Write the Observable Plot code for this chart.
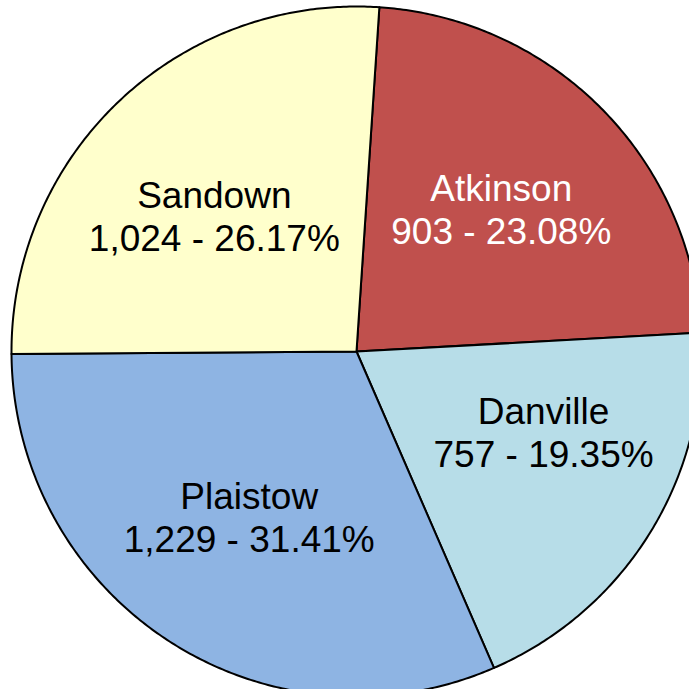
<!DOCTYPE html>
<html>
<head>
<meta charset="utf-8">
<script src="https://cdn.jsdelivr.net/npm/d3@7"></script>
<script src="https://cdn.jsdelivr.net/npm/@observablehq/plot@0.6"></script>
<style>
  html, body { margin: 0; padding: 0; background: #fff; overflow: hidden; }
  #chart svg { display: block; }
</style>
</head>
<body>
<div id="chart"></div>
<script>
// Data
const towns = ["Atkinson", "Danville", "Plaistow", "Sandown"];
const counts = [903, 757, 1229, 1024];
const sliceColors = ["#C0504D", "#B7DDE8", "#8EB4E3", "#FFFFCC"];

// Layout
const W = 689, H = 689;
const cx = 356, cy = 351, R = 345;
const startDeg = 3.8;
const fontSize = 37, lineHeight = 1.16;
const fontFamily = "'Liberation Sans', Arial, sans-serif";

const total = d3.sum(counts);
const fmt = d3.format(",");

// text measuring for label fitting
const ctx = document.createElement("canvas").getContext("2d");
ctx.font = `${fontSize}px ${fontFamily}`;

function fits(px, py, w, h, a0, a1, pad) {
  const pts = [];
  for (const fx of [-0.5, 0, 0.5]) for (const fy of [-0.5, 0, 0.5]) pts.push([px + fx * w, py + fy * h]);
  const u0 = [Math.sin(a0), -Math.cos(a0)], u1 = [Math.sin(a1), -Math.cos(a1)];
  for (const [x, y] of pts) {
    if (Math.hypot(x, y) > R - pad) return false;
    if (u0[0] * y - u0[1] * x < pad) return false;
    if (u1[0] * y - u1[1] * x > -pad) return false;
  }
  return true;
}

// Build slice polygons (unit circle coords, y downward)
const polys = [];
const labels = [];
let acc = 0;
towns.forEach((name, i) => {
  const a0 = (startDeg + 360 * acc / total) * Math.PI / 180;
  acc += counts[i];
  const a1 = (startDeg + 360 * acc / total) * Math.PI / 180;
  polys.push({name, x: 0, y: 0});
  const n = Math.max(2, Math.ceil((a1 - a0) / (Math.PI / 360)));
  for (let k = 0; k <= n; k++) {
    const a = a0 + (a1 - a0) * k / n;
    polys.push({name, x: Math.sin(a), y: -Math.cos(a)});
  }
  polys.push({name, x: 0, y: 0});

  const line1 = name;
  const line2 = `${fmt(counts[i])} - ${(counts[i] / total * 100).toFixed(2)}%`;
  const w = Math.max(ctx.measureText(line1).width, ctx.measureText(line2).width);
  const h = fontSize * lineHeight + fontSize * 0.95;
  const am = (a0 + a1) / 2;
  let best = null;
  outer: for (let s = 0; s <= 120; s++) {
    const d = (s % 2 ? 1 : -1) * Math.ceil(s / 2) * 0.5 * Math.PI / 180;
    for (const rf of [0.57, 0.59, 0.55, 0.53, 0.61, 0.51, 0.63]) {
      const a = am + d, r = rf * R;
      const px = r * Math.sin(a), py = -r * Math.cos(a);
      if (fits(px, py, w, h, a0, a1, 22)) { best = [px, py]; break outer; }
    }
  }
  if (!best) best = [0.57 * R * Math.sin(am), -0.57 * R * Math.cos(am)];
  labels.push({name, x: best[0] / R, y: best[1] / R, text: `${line1}\n${line2}`});
});

const chart = Plot.plot({
  width: W,
  height: H,
  margin: 0,
  style: {background: "#fff", overflow: "hidden"},
  x: {domain: [-cx / R, (W - cx) / R], range: [0, W], axis: null},
  y: {domain: [-cy / R, (H - cy) / R], range: [0, H], axis: null},
  color: {domain: towns, range: sliceColors},
  marks: [
    Plot.line(polys, {x: "x", y: "y", z: "name", fill: "name", stroke: "black", strokeWidth: 2, strokeLinejoin: "round", curve: "linear"}),
    Plot.text(labels.filter(d => d.name !== "Atkinson"), {x: "x", y: "y", text: "text", fill: "black", fontSize, lineHeight, fontFamily, textAnchor: "middle"}),
    Plot.text(labels.filter(d => d.name === "Atkinson"), {x: "x", y: "y", text: "text", fill: "white", fontSize, lineHeight, fontFamily, textAnchor: "middle"})
  ]
});
document.getElementById("chart").appendChild(chart);
</script>
</body>
</html>
